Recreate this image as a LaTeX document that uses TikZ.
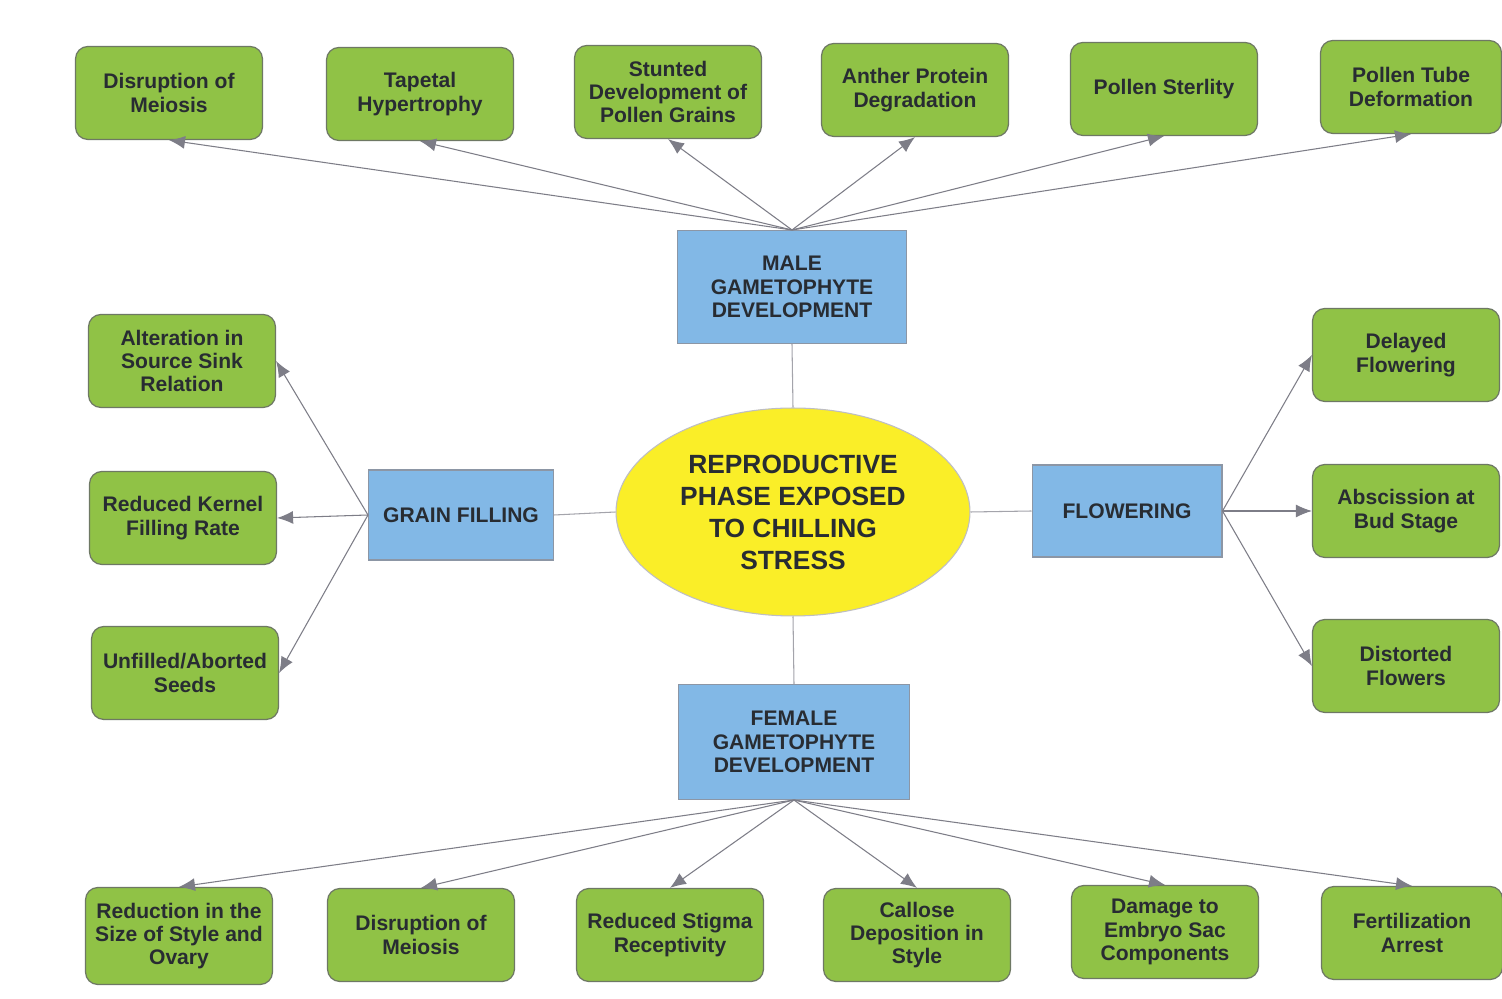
\documentclass[tikz,border=0pt]{standalone}
\usepackage{fontspec}
\setmainfont{Liberation Sans}
\definecolor{leafgreen}{RGB}{144,194,70}
\definecolor{leafedge}{RGB}{110,120,100}
\definecolor{skyblue}{RGB}{130,184,230}
\definecolor{skyedge}{RGB}{140,150,165}
\definecolor{sunyellow}{RGB}{250,238,40}
\definecolor{linegray}{RGB}{125,125,135}
\definecolor{inkgray}{RGB}{40,44,50}
\usetikzlibrary{arrows.meta,shapes.geometric}
\tikzset{
  effect/.style={draw=leafedge, fill=leafgreen, rounded corners=7pt, line width=0.7pt,
    minimum width=3.74cm, minimum height=1.86cm, align=center, text=inkgray,
    font=\bfseries\fontsize{12}{13.3}\selectfont},
  stage/.style={draw=skyedge, fill=skyblue, line width=0.6pt, align=center, text=inkgray,
    font=\bfseries\fontsize{12}{13.3}\selectfont},
  hub/.style={ellipse, draw=linegray!50, fill=sunyellow, line width=0.6pt, inner sep=0pt,
    minimum width=7.08cm, minimum height=4.16cm, align=center, text=inkgray,
    font=\bfseries\fontsize{15}{18.2}\selectfont},
  link/.style={draw=linegray, line width=0.6pt, -{Latex[length=3.2mm,width=2.6mm]}},
  tie/.style={draw=linegray!70, line width=0.6pt}
}

\begin{document}
\begin{tikzpicture}[x=0.02cm, y=-0.02cm]
  \fill[white] (0,0) rectangle (1502,999);
  \useasboundingbox (0,0) rectangle (1502,999);

  % Centre and the four stages
  \node[hub] (core) at (793,512) {REPRODUCTIVE\\PHASE EXPOSED\\TO CHILLING\\STRESS};
  \node[stage, minimum width=4.58cm, minimum height=2.26cm] (male) at (792,287) {MALE\\GAMETOPHYTE\\DEVELOPMENT};
  \node[stage, minimum width=4.62cm, minimum height=2.3cm] (female) at (794,742) {FEMALE\\GAMETOPHYTE\\DEVELOPMENT};
  \node[stage, minimum width=3.7cm, minimum height=1.8cm] (grain) at (461,515) {GRAIN FILLING};
  \node[stage, minimum width=3.8cm, minimum height=1.84cm] (flower) at (1127,511) {FLOWERING};

  % Top row
  \node[effect] (meioM) at (169,93) {Disruption of\\Meiosis};
  \node[effect] (tapetal) at (420,94) {Tapetal\\Hypertrophy};
  \node[effect] (stunted) at (668,92) {Stunted\\Development of\\Pollen Grains};
  \node[effect] (anther) at (915,90) {Anther Protein\\Degradation};
  \node[effect] (sterile) at (1164,89) {Pollen Sterlity};
  \node[effect, minimum width=3.62cm] (tube) at (1411,87) {Pollen Tube\\Deformation};

  % Left column
  \node[effect] (source) at (182,361) {Alteration in\\Source Sink\\Relation};
  \node[effect] (kernel) at (183,518) {Reduced Kernel\\Filling Rate};
  \node[effect] (unfilled) at (185,673) {Unfilled/Aborted\\Seeds};

  % Right column
  \node[effect] (delayed) at (1406,355) {Delayed\\Flowering};
  \node[effect] (abscis) at (1406,511) {Abscission at\\Bud Stage};
  \node[effect] (distort) at (1406,666) {Distorted\\Flowers};

  % Bottom row
  \node[effect, minimum height=1.94cm] (styleov) at (179,936) {Reduction in the\\Size of Style and\\Ovary};
  \node[effect] (meioF) at (421,935) {Disruption of\\Meiosis};
  \node[effect] (stigma) at (670,935) {Reduced Stigma\\Receptivity};
  \node[effect] (callose) at (917,935) {Callose\\Deposition in\\Style};
  \node[effect] (embryo) at (1165,932) {Damage to\\Embryo Sac\\Components};
  \node[effect, minimum width=3.62cm] (fertil) at (1412,933) {Fertilization\\Arrest};

  % Centre to stages
  \draw[tie] (core.north) -- (male.south);
  \draw[tie] (core.south) -- (female.north);
  \draw[tie] (core.west) -- (grain.east);
  \draw[tie] (core.east) -- (flower.west);

  % Male effects
  \draw[link] (male.north) -- (meioM.south);
  \draw[link] (male.north) -- (tapetal.south);
  \draw[link] (male.north) -- (stunted.south);
  \draw[link] (male.north) -- (anther.south);
  \draw[link] (male.north) -- (sterile.south);
  \draw[link] (male.north) -- (tube.south);

  % Grain filling effects
  \draw[link] (grain.west) -- (source.east);
  \draw[link] (grain.west) -- (kernel.east);
  \draw[link] (grain.west) -- (unfilled.east);

  % Flowering effects
  \draw[link] (flower.east) -- (delayed.west);
  \draw[link] (flower.east) -- (abscis.west);
  \draw[link] (flower.east) -- (distort.west);

  % Female effects
  \draw[link] (female.south) -- (styleov.north);
  \draw[link] (female.south) -- (meioF.north);
  \draw[link] (female.south) -- (stigma.north);
  \draw[link] (female.south) -- (callose.north);
  \draw[link] (female.south) -- (embryo.north);
  \draw[link] (female.south) -- (fertil.north);
\end{tikzpicture}
\end{document}
